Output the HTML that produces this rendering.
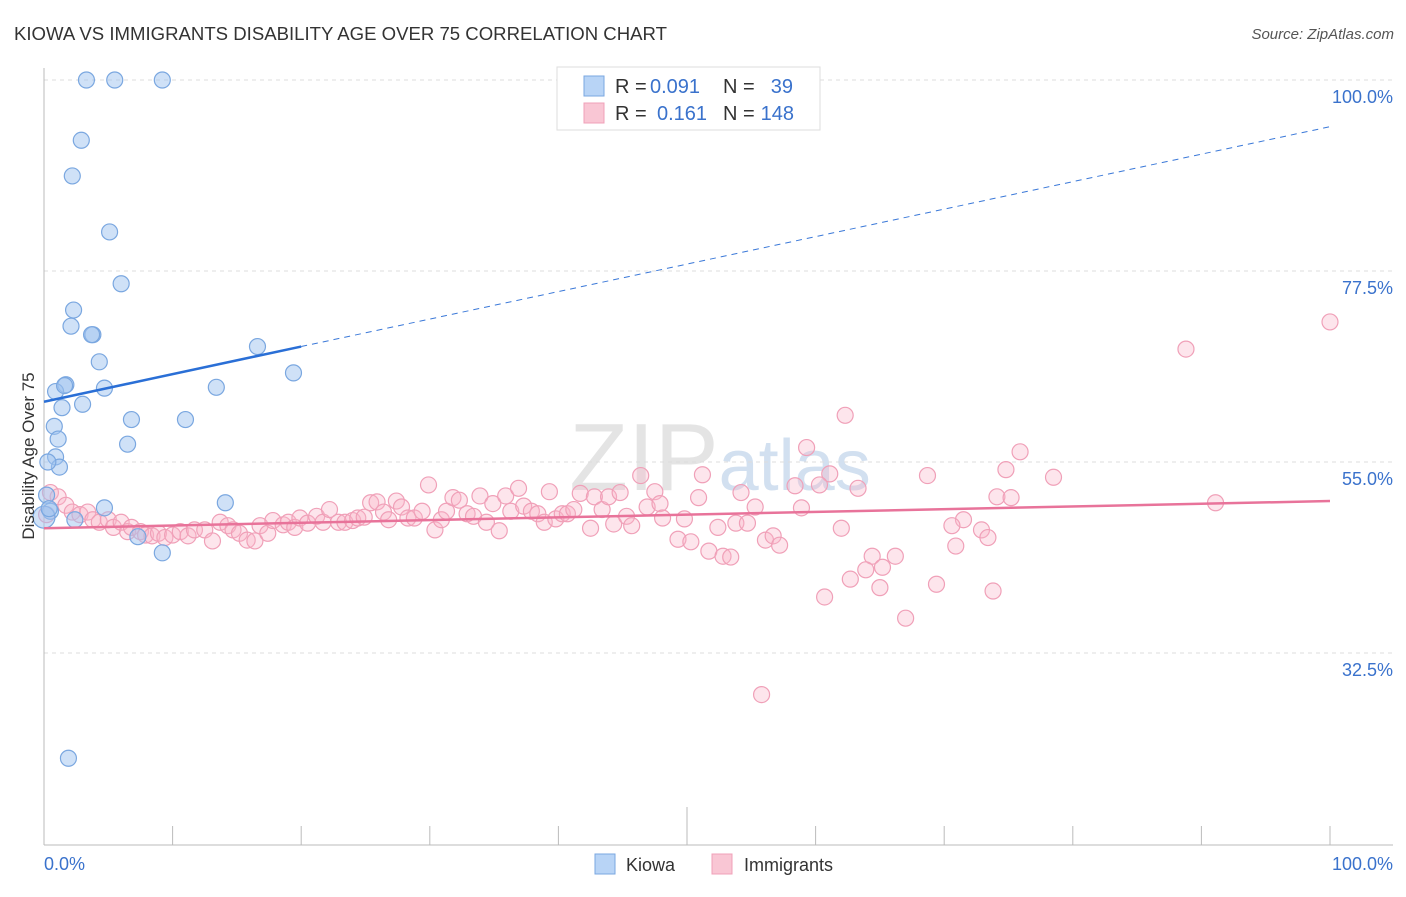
<!DOCTYPE html>
<html><head><meta charset="utf-8"><style>
body{margin:0;background:#fff;font-family:"Liberation Sans",sans-serif;}
svg text{font-family:"Liberation Sans",sans-serif;}
</style></head><body>
<svg id="chart" width="1406" height="892" xmlns="http://www.w3.org/2000/svg">
<text x="14" y="40" font-size="18" fill="#333" textLength="653" lengthAdjust="spacingAndGlyphs">KIOWA VS IMMIGRANTS DISABILITY AGE OVER 75 CORRELATION CHART</text>
<text x="1394" y="39" font-size="15" fill="#555" text-anchor="end" font-style="italic">Source: ZipAtlas.com</text>
<text x="720" y="490" font-size="96" fill="#e4e4e4" text-anchor="middle" font-family="Liberation Serif">ZIP<tspan fill="#d2e0f0" font-family="Liberation Sans" font-size="72">atlas</tspan></text>
<g id="grid"></g>
<g id="axes"></g>
<g id="marks"></g>
<text transform="translate(34,456) rotate(-90)" font-size="17" fill="#333" text-anchor="middle">Disability Age Over 75</text>
<g font-size="20">
<rect x="557" y="67" width="263" height="63" fill="#fff" stroke="#ddd"/>
<rect x="584" y="76" width="20" height="20" fill="#b8d4f6" stroke="#7aa7e0"/>
<rect x="584" y="103" width="20" height="20" fill="#f9c6d4" stroke="#f0a0b8"/>
<text x="615" y="93" fill="#333">R =</text>
<text x="650" y="93" fill="#3a72cc">0.091</text>
<text x="723" y="93" fill="#333">N =</text>
<text x="793" y="93" fill="#3a72cc" text-anchor="end">39</text>
<text x="615" y="120" fill="#333">R =</text>
<text x="657" y="120" fill="#3a72cc">0.161</text>
<text x="723" y="120" fill="#333">N =</text>
<text x="794" y="120" fill="#3a72cc" text-anchor="end">148</text>
</g>
<g>
<rect x="595" y="854" width="20" height="20" fill="#b8d4f6" stroke="#7aa7e0"/>
<text x="626" y="871" font-size="18" fill="#333">Kiowa</text>
<rect x="712" y="854" width="20" height="20" fill="#f9c6d4" stroke="#f0a0b8"/>
<text x="744" y="871" font-size="18" fill="#333">Immigrants</text>
</g>
</svg>
<script>
const yTicks=[100,77.5,55,32.5];
const yTickLabels=["100.0%","77.5%","55.0%","32.5%"];
const xTickLabels=["0.0%","100.0%"];
const kiowaX=[3.3,5.5,9.2,2.9,2.2,5.1,6.0,2.3,2.1,3.8,16.6,4.3,19.4,1.7,0.9,4.7,13.4,3.0,1.4,0.8,6.8,11.0,1.1,6.5,0.9,1.2,0.3,0.2,4.7,14.1,0.5,2.4,7.3,9.2,1.9,0,1.6,3.7,0.4];
const kiowaY=[100,100,100,92.9,88.7,82.1,76.0,72.9,71.0,70.0,68.6,66.8,65.5,64.1,63.3,63.7,63.8,61.8,61.4,59.2,60.0,60.0,57.7,57.1,55.6,54.4,55.0,51.1,49.6,50.2,49.2,48.2,46.2,44.3,20.1,48.5,64.0,70.0,49.5];
const immX=[100,88.8,62.3,59.3,75.9,74.8,78.5,68.7,61.1,51.2,46.4,91.1,74.1,75.2,58.4,63.3,60.3,54.2,50.9,55.3,58.9,71.5,70.6,72.9,73.4,70.9,62.0,52.4,53.8,54.7,56.1,56.7,57.2,49.3,50.3,51.7,52.8,53.4,64.4,66.2,65.2,63.9,62.7,65.0,69.4,73.8,60.7,67.0,55.8,
0.5,1.1,0.2,1.7,2.2,2.8,3.4,3.8,4.3,5.0,5.4,6.0,6.5,6.8,7.5,7.9,8.4,8.9,9.4,10.0,10.6,11.2,11.7,12.5,13.1,13.7,14.3,14.7,15.2,15.8,16.4,16.8,17.4,17.8,18.6,19.0,19.5,19.9,20.5,21.2,21.7,22.2,22.9,23.4,24.0,24.4,24.9,25.4,25.9,26.4,26.8,27.4,27.8,28.3,28.8,29.4,29.9,30.4,30.9,31.3,31.8,32.3,32.9,33.4,33.9,34.4,34.9,35.4,35.9,36.3,36.9,37.3,37.9,38.4,38.9,39.3,39.8,40.3,40.7,41.2,41.7,42.5,42.8,43.4,43.9,44.3,44.8,45.3,45.7,46.9,47.5,47.9,48.1,49.8];
const immY=[71.5,68.3,60.5,56.7,56.2,54.1,53.2,53.4,53.6,53.5,53.4,50.2,50.9,50.8,52.2,51.9,52.3,51.4,50.8,49.7,49.6,48.2,47.5,47.0,46.1,45.1,47.2,47.3,47.8,47.8,45.8,46.3,45.2,45.9,45.6,44.5,43.9,43.8,43.9,43.9,42.6,42.3,41.2,40.2,40.6,39.8,39.1,36.6,27.6,
51.4,50.9,48.8,49.9,49.1,48.8,49.1,48.2,47.9,48.2,47.3,47.9,46.8,47.3,46.8,46.4,46.3,46.6,46.1,46.4,46.8,46.3,47.0,47.0,45.7,47.9,47.5,47.0,46.6,45.8,45.7,47.5,46.6,48.1,47.6,47.9,47.3,48.4,47.8,48.6,47.9,49.4,47.9,47.9,48.1,48.4,48.5,50.2,50.3,49.1,48.2,50.4,49.7,48.4,48.4,49.2,52.3,47.0,48.2,49.2,50.8,50.5,48.9,48.6,51.0,47.9,50.1,46.9,51.0,49.2,51.9,49.8,49.2,48.9,47.9,51.5,48.3,48.9,48.9,49.4,51.3,47.2,50.9,49.4,50.9,47.7,51.4,48.6,47.5,49.7,51.5,50.1,48.4,48.3];
const kiowaTrend=[62.1,68.6,94.5];
const immTrend=[47.2,50.4];

const NS="http://www.w3.org/2000/svg";
const X0=44,X1=1330,Y100=80,Y32=653;
const xs=v=>X0+(X1-X0)*v/100;
const ys=v=>Y100+(100-v)*(Y32-Y100)/67.5;
function mk(tag,attrs,parent){const e=document.createElementNS(NS,tag);for(const k in attrs)e.setAttribute(k,attrs[k]);parent.appendChild(e);return e;}
const grid=document.getElementById('grid'),axes=document.getElementById('axes'),marks=document.getElementById('marks');
yTicks.forEach((t,i)=>{
 const l=mk('line',{x1:X0,x2:1393,y1:ys(t),y2:ys(t),stroke:'#ddd','stroke-dasharray':'4,4'},grid);
 
 
 const tx=mk('text',{x:1393,y:ys(t)+23,'font-size':18,fill:'#3a72cc','text-anchor':'end'},axes);
 tx.textContent=yTickLabels[i];
 
 
});
let a=mk('line',{x1:X0,x2:X0,y1:68,y2:845,stroke:'#bbb'},axes);


a=mk('line',{x1:X0,x2:1393,y1:845,y2:845,stroke:'#bbb'},axes);


for(let k=1;k<=10;k++){
 const x=xs(k*10);
 const t=mk('line',{x1:x,x2:x,y1:k==5?807:826,y2:845,stroke:'#bbb'},axes);
 
 
}
let xl=mk('text',{x:44,y:870,'font-size':18,fill:'#3a72cc'},axes);xl.textContent=xTickLabels[0];


xl=mk('text',{x:1393,y:870,'font-size':18,fill:'#3a72cc','text-anchor':'end'},axes);xl.textContent=xTickLabels[1];


immX.forEach((x,i)=>{
 const c=mk('circle',{cx:xs(x),cy:ys(immY[i]),r:8,fill:'rgba(248,180,200,0.35)',stroke:'#f0a0b8','stroke-width':1.2},marks);
 
 
});
kiowaX.forEach((x,i)=>{
 const c=mk('circle',{cx:xs(x),cy:ys(kiowaY[i]),r:(i==35?11:8),fill:'rgba(160,196,240,0.5)',stroke:'#7aa7e0','stroke-width':1.2},marks);
 
 
});
let tl=mk('line',{x1:xs(20),y1:ys(kiowaTrend[1]),x2:xs(100),y2:ys(kiowaTrend[2]),stroke:'#3a78d8','stroke-width':1,'stroke-dasharray':'6,5'},marks);


tl=mk('line',{x1:xs(0),y1:ys(kiowaTrend[0]),x2:xs(20),y2:ys(kiowaTrend[1]),stroke:'#2a6fd6','stroke-width':2.5},marks);


tl=mk('line',{x1:xs(0),y1:ys(immTrend[0]),x2:xs(100),y2:ys(immTrend[1]),stroke:'#e8739a','stroke-width':2.5},marks);


</script>
</body></html>
